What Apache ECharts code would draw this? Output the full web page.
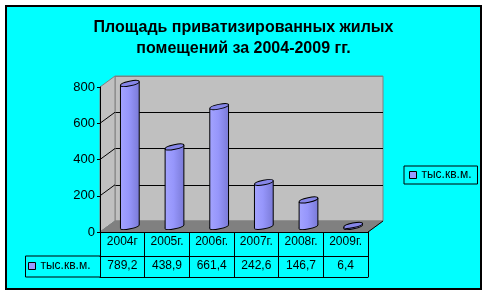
<!DOCTYPE html>
<html>
<head>
<meta charset="utf-8">
<script src="https://cdn.jsdelivr.net/npm/echarts@6/dist/echarts.min.js"></script>
<style>
html,body{margin:0;padding:0;background:#fff;}
#c{width:487px;height:293px;}
</style>
</head>
<body>
<div id="c"></div>
<script>
// ---- data ----
const categories = ['2004г', '2005г.', '2006г.', '2007г.', '2008г.', '2009г.'];
const values = [789.2, 438.9, 661.4, 242.6, 146.7, 6.4];
const seriesName = 'тыс.кв.м.';
const yMin = 0, yMax = 800, yStep = 200;
const titleLines = ['Площадь приватизированных жилых', 'помещений за 2004-2009 гг.'];

// ---- layout ----
const FRONT = {left: 100, top: 87, right: 368, bottom: 232};
const DX = 15, DY = -11;
function shifted(r, f) {
  return {left: r.left + DX * f, top: r.top + DY * f, right: r.right + DX * f, bottom: r.bottom + DY * f};
}
const BACK = shifted(FRONT, 1);
const MID = shifted(FRONT, 0.5);
function gridOf(r) {
  return {left: r.left, top: r.top, width: r.right - r.left, height: r.bottom - r.top, containLabel: false};
}
const fmt = v => v.toFixed(1).replace('.', ',');
const barColor = '#9999ff';
const font = 'Arial, "Liberation Sans", sans-serif';

const chart = echarts.init(document.getElementById('c'), null, {renderer: 'canvas'});

function yPix(r, v) { return r.bottom - (v - yMin) / (yMax - yMin) * (r.bottom - r.top); }

// side wall diagonals
const sideLines = [];
for (let v = yMin + yStep; v < yMax; v += yStep) {
  sideLines.push({type: 'line', z: 1, shape: {x1: FRONT.left, y1: yPix(FRONT, v), x2: BACK.left, y2: yPix(BACK, v)},
    style: {stroke: '#000', lineWidth: 1}});
}

const option = {
  animation: false,
  backgroundColor: 'transparent',
  title: titleLines.map((t, k) => ({
    text: t, left: 'center', top: 18 + k * 21, padding: 0,
    textStyle: {fontFamily: font, fontSize: 16, fontWeight: 'bold', color: '#000', lineHeight: 20}
  })),
  legend: [
    {
      left: 404, top: 166, padding: [3, 6, 3, 5], orient: 'vertical',
      borderColor: '#000', borderWidth: 1, backgroundColor: '#00ffff',
      itemWidth: 7, itemHeight: 7, itemGap: 0,
      textStyle: {fontFamily: font, fontSize: 12, color: '#000'},
      data: [{name: seriesName, icon: 'rect', itemStyle: {color: barColor, borderColor: '#000', borderWidth: 1}}]
    },
    {
      left: 28, top: 260, padding: 0,
      itemWidth: 7, itemHeight: 7, itemGap: 0,
      textStyle: {fontFamily: font, fontSize: 12, color: '#000'},
      data: [{name: seriesName, icon: 'rect', itemStyle: {color: barColor, borderColor: '#000', borderWidth: 1}}]
    }
  ],
  grid: [
    Object.assign(gridOf(BACK), {show: true, backgroundColor: '#c0c0c0', borderColor: '#808080', borderWidth: 1}),
    gridOf(FRONT),
    gridOf(MID)
  ],
  xAxis: [
    {gridIndex: 0, type: 'category', data: categories, show: false},
    {gridIndex: 1, type: 'category', data: categories, position: 'bottom', z: 5,
      axisLine: {show: true, lineStyle: {color: '#000', width: 1}},
      axisTick: {show: true, interval: 0, length: 24, lineStyle: {color: '#000'}},
      axisLabel: {interval: 0, margin: 4, fontFamily: font, fontSize: 12, color: '#000'},
      splitLine: {show: false}},
    {gridIndex: 1, type: 'category', data: values.map(fmt), position: 'bottom', offset: 24, z: 5,
      axisLine: {show: true, lineStyle: {color: '#000', width: 1}},
      axisTick: {show: true, interval: 0, length: 21, lineStyle: {color: '#000'}},
      axisLabel: {interval: 0, margin: 4, fontFamily: font, fontSize: 12, color: '#000'},
      splitLine: {show: false}},
    {gridIndex: 1, type: 'category', data: categories, position: 'bottom', offset: 45, z: 5,
      axisLine: {show: true, lineStyle: {color: '#000', width: 1}},
      axisTick: {show: false}, axisLabel: {show: false}, splitLine: {show: false}},
    {gridIndex: 2, type: 'category', data: categories, show: false}
  ],
  yAxis: [
    {gridIndex: 0, type: 'value', min: yMin, max: yMax, interval: yStep,
      axisLine: {show: false}, axisTick: {show: false}, axisLabel: {show: false},
      splitLine: {show: true, lineStyle: {color: ['#808080', '#000', '#000', '#000', '#808080'], width: 1}}},
    {gridIndex: 1, type: 'value', min: yMin, max: yMax, interval: yStep, z: 5,
      axisLine: {show: true, lineStyle: {color: '#000', width: 1}},
      axisTick: {show: true, length: 3, lineStyle: {color: '#000'}},
      axisLabel: {margin: 5, fontFamily: font, fontSize: 13, color: '#000'},
      splitLine: {show: false}},
    {gridIndex: 2, type: 'value', min: yMin, max: yMax, show: false}
  ],
  graphic: [
    {type: 'rect', z: -100, shape: {x: 6, y: 6, width: 475, height: 283},
      style: {fill: '#00ffff', stroke: '#000', lineWidth: 2}},
    {type: 'polygon', z: 1, shape: {points: [[FRONT.left, FRONT.bottom], [FRONT.left, FRONT.top], [BACK.left, BACK.top], [BACK.left, BACK.bottom]]},
      style: {fill: '#c0c0c0', stroke: '#808080', lineWidth: 1}},
    {type: 'polygon', z: 1, shape: {points: [[FRONT.left, FRONT.bottom], [FRONT.right, FRONT.bottom], [BACK.right, BACK.bottom], [BACK.left, BACK.bottom]]},
      style: {fill: '#808080', stroke: '#808080', lineWidth: 1}},
    {type: 'line', z: 4, shape: {x1: FRONT.right, y1: FRONT.bottom, x2: BACK.right, y2: BACK.bottom},
      style: {stroke: '#000', lineWidth: 1}},
    {type: 'polyline', z: 5, shape: {points: [[FRONT.left, FRONT.bottom + 24], [25.5, FRONT.bottom + 24], [25.5, FRONT.bottom + 45], [FRONT.left, FRONT.bottom + 45]]},
      style: {stroke: '#000', lineWidth: 1, fill: null}}
  ].concat(sideLines),
  series: [{
    name: seriesName,
    type: 'custom',
    xAxisIndex: 4, yAxisIndex: 2,
    z: 3,
    color: barColor,
    itemStyle: {color: barColor},
    data: values.map((v, i) => [i, v]),
    renderItem: function (params, api) {
      const i = api.value(0), v = api.value(1);
      const top = api.coord([i, v]);
      const bot = api.coord([i, 0]);
      const band = api.size([1, 0])[0];
      const rx = band * 0.21;
      const th = 0.2;
      const s = rx * Math.tan(th);
      const erx = rx / Math.cos(th);
      const ery = 2.3;
      const cx = top[0], ty = top[1], by = bot[1];
      const grad = new echarts.graphic.LinearGradient(0, 0, 1, 0, [
        {offset: 0, color: '#a3a3ff'}, {offset: 0.45, color: '#9696fb'}, {offset: 1, color: '#7b7bd8'}]);
      return {
        type: 'group',
        children: [
          {type: 'ellipse', shape: {cx: cx, cy: by, rx: erx, ry: ery}, rotation: th, originX: cx, originY: by,
            style: {fill: grad, stroke: '#000', lineWidth: 1}},
          {type: 'polygon', shape: {points: [[cx - rx, ty + s], [cx + rx, ty - s], [cx + rx, by - s], [cx - rx, by + s]]},
            style: {fill: grad, stroke: null}},
          {type: 'line', shape: {x1: cx - rx, y1: ty + s, x2: cx - rx, y2: by + s}, style: {stroke: '#000', lineWidth: 1}},
          {type: 'line', shape: {x1: cx + rx, y1: ty - s, x2: cx + rx, y2: by - s}, style: {stroke: '#000', lineWidth: 1}},
          {type: 'ellipse', shape: {cx: cx, cy: ty, rx: erx, ry: ery}, rotation: th, originX: cx, originY: ty,
            style: {fill: '#8686e8', stroke: '#000', lineWidth: 1}}
        ]
      };
    }
  }]
};
chart.setOption(option);
</script>
</body>
</html>
